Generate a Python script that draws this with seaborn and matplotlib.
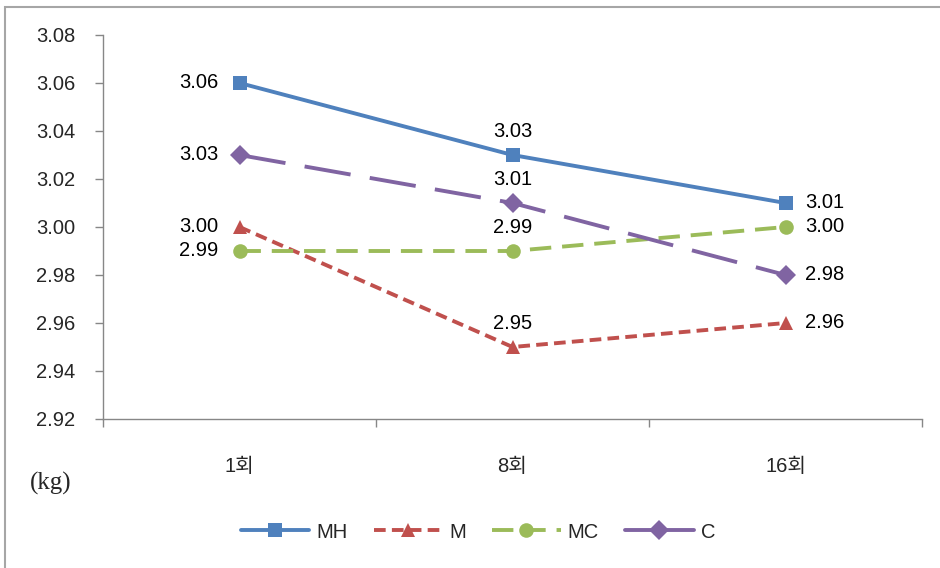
import matplotlib
matplotlib.use("Agg")
import matplotlib.pyplot as plt
from matplotlib.patches import Rectangle
import seaborn as sns
import pandas as pd

rounds = ["1회", "8회", "16회"]
groups = ["MH", "M", "MC", "C"]
mh = [3.06, 3.03, 3.01]
m = [3.00, 2.95, 2.96]
mc = [2.99, 2.99, 3.00]
c = [3.03, 3.01, 2.98]
yticks = [2.92, 2.94, 2.96, 2.98, 3.00, 3.02, 3.04, 3.06, 3.08]

colors = {"MH": "#4F81BD", "M": "#C0504D", "MC": "#9BBB59", "C": "#8064A2"}
markers = {"MH": "s", "M": "^", "MC": "o", "C": "D"}
dashes = {"MH": "", "M": (3, 1.6), "MC": (5.5, 2.8), "C": (12, 5)}

df = pd.DataFrame({
    "round": rounds * 4,
    "value": mh + m + mc + c,
    "group": [g for g in groups for _ in rounds],
})

sns.set_style("white")
plt.rcParams["font.family"] = ["Liberation Sans", "Noto Sans CJK KR", "DejaVu Sans"]
plt.rcParams["font.size"] = 14.5

fig = plt.figure(figsize=(9.4, 5.68), dpi=100)
ax = fig.add_axes([103 / 940, 1 - 419 / 568, (922 - 103) / 940, (419 - 35) / 568])

sns.lineplot(data=df, x="round", y="value", hue="group", style="group",
             palette=colors, markers=markers, dashes=dashes, linewidth=2.8,
             markersize=10.5, markeredgewidth=0, ax=ax, sort=False)

# data labels: left of first point, above middle, right of last
for g, vals in zip(groups, [mh, m, mc, c]):
    for i, v in enumerate(vals):
        if i == 0:
            off, ha = (-15, 0), "right"
        elif i == 1:
            off, ha = (0, 17), "center"
        else:
            off, ha = (14, 0), "left"
        ax.annotate(f"{v:.2f}", (i, v), xytext=off, textcoords="offset points",
                    ha=ha, va="center", fontsize=14.5, color="black")

ax.set_xlim(-0.5, 2.5)
ax.set_ylim(2.92, 3.08)
ax.set_yticks(yticks)
ax.set_yticklabels([f"{t:.2f}" for t in yticks])
ax.set_xticks([-0.5, 0.5, 1.5, 2.5])
ax.set_xticklabels([])
ax.set_xticks([0, 1, 2], minor=True)
ax.set_xticklabels(rounds, minor=True)
ax.tick_params(axis="x", which="major", bottom=True, length=6, width=1,
               color="#878787", direction="out")
ax.tick_params(axis="x", which="minor", bottom=True, length=0, pad=27)
ax.tick_params(axis="y", left=True, length=6, width=1, color="#878787",
               direction="out", pad=14)
ax.set_xlabel("")
ax.set_ylabel("")
for s in ["top", "right"]:
    ax.spines[s].set_visible(False)
for s in ["left", "bottom"]:
    ax.spines[s].set_color("#878787")
    ax.spines[s].set_linewidth(1)

sns.move_legend(ax, "center", bbox_to_anchor=(478 / 940, 1 - 532 / 568),
                bbox_transform=fig.transFigure, ncol=4, frameon=False, title=None,
                handlelength=3.4, columnspacing=1.3, handletextpad=0.35)
# long-dash pattern reads as a solid line in the short legend handle
leg = ax.get_legend()
leg.get_lines()[3].set_linestyle("-")

fig.text(30 / 940, 1 - 483 / 568, "(kg)", family="Liberation Serif", fontsize=18,
         va="center", ha="left")

fig.patches.append(Rectangle((5 / 940, -0.02), 1.0, 1.02 - 7 / 568, fill=False,
                             edgecolor="#a6a6a6", linewidth=1.5, transform=fig.transFigure))

fig.savefig("out.png", dpi=100)
